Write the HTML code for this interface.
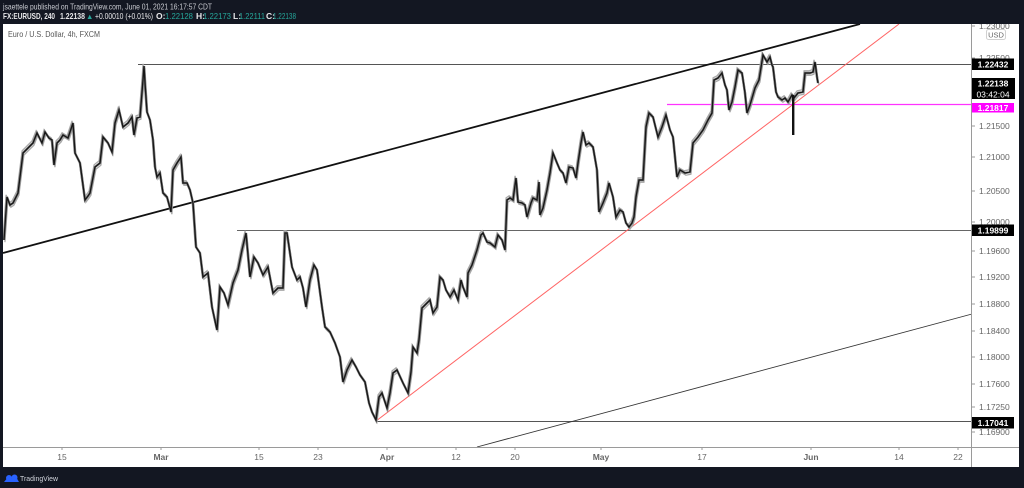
<!DOCTYPE html>
<html><head><meta charset="utf-8"><style>
html,body{margin:0;padding:0;background:#131722;}
svg{display:block;}
text{font-family:"Liberation Sans",sans-serif;}
</style></head><body>
<svg width="1024" height="488" viewBox="0 0 1024 488" xmlns="http://www.w3.org/2000/svg" xmlns:xlink="http://www.w3.org/1999/xlink">
<defs>
<polyline id="pp" fill="none" points="4,240 7,197 10,205 13,203 18,193 23,153 28,148 33,143 37,133 42,143 45,132 49,138 52,140 54,165 57,143 60,140 63,135 68,138 73,123 75,153 80,163 85,200 88,196 90,193 95,167 100,163 103,137 108,143 112,152 115,123 119,110 123,127 128,123 132,117 134,135 137,118 140,117 143,80 144,66 145,83 147,112 150,120 153,140 155,167 157,177 160,173 163,193 167,197 171,212 173,170 177,163 181,157 183,183 187,183 190,190 193,203 196,247 200,253 203,277 208,273 212,307 217,330 220,287 224,293 228,305 233,283 238,270 242,250 246,233 250,277 254,257 258,263 263,275 268,267 273,293 278,288 283,288 285,233 287,233 292,267 297,280 300,277 303,288 306,307 310,280 314,265 317,270 322,307 325,327 330,332 335,343 340,357 343,382 347,370 352,360 356,367 360,375 365,382 369,403 372,412 376,420 379,397 382,393 387,408 390,393 393,373 397,370 403,383 408,393 411,372 413,347 417,353 419,340 422,308 427,303 430,300 433,313 437,307 440,277 443,280 446,290 450,297 454,290 458,300 461,280 463,287 467,297 468,273 472,265 477,250 481,235 483,233 487,242 490,243 495,247 498,235 502,240 505,250 507,200 510,198 513,200 516,178 518,202 522,203 525,205 527,217 531,203 533,198 537,200 539,182 540,215 543,208 547,190 550,173 553,153 557,163 560,170 563,173 566,183 569,167 573,168 576,178 578,163 581,143 583,132 586,145 589,143 593,147 597,170 599,212 603,203 607,193 609,183 613,197 616,217 620,210 623,212 626,223 629,227 632,223 634,217 636,197 639,180 643,180 646,127 649,113 653,117 658,137 662,127 666,115 670,130 673,137 677,177 680,170 685,173 690,172 693,143 698,137 703,130 708,120 712,113 714,80 718,78 722,73 725,85 727,90 729,110 732,102 735,87 738,70 742,73 745,93 747,113 750,105 755,88 759,80 763,55 767,62 770,57 772,65 773,67 776,92 778,97 782,100 785,98 788,102 792,95 794,98 798,93 803,92 805,73 810,73 813,72 815,62 817,77 818,83"/>
</defs>
<rect x="0" y="0" width="1024" height="488" fill="#131722"/>
<rect x="3" y="24" width="1016" height="443" fill="#ffffff"/>

<text x="8" y="37" font-size="8.5" fill="#555" textLength="92" lengthAdjust="spacingAndGlyphs">Euro / U.S. Dollar, 4h, FXCM</text>

<line x1="138" y1="64.5" x2="972" y2="64.5" stroke="#555" stroke-width="1"/>
<line x1="237" y1="230.5" x2="972" y2="230.5" stroke="#666" stroke-width="1"/>
<line x1="376" y1="421.5" x2="972" y2="421.5" stroke="#555" stroke-width="1"/>
<line x1="667" y1="104.5" x2="972" y2="104.5" stroke="#ff33ff" stroke-width="1.2"/>

<line x1="3" y1="253" x2="860" y2="24" stroke="#111" stroke-width="1.8"/>
<line x1="376" y1="421" x2="899" y2="24" stroke="#ff6464" stroke-width="1"/>
<line x1="477" y1="447" x2="972" y2="314" stroke="#333" stroke-width="0.9"/>

<g stroke-linejoin="miter" stroke-linecap="butt">
<use xlink:href="#pp" href="#pp" stroke="#a8a8a8" stroke-width="1.3" transform="translate(0.9,2.2)"/>
<use xlink:href="#pp" href="#pp" stroke="#a8a8a8" stroke-width="1.3" transform="translate(-0.9,-2.2)"/>
<use xlink:href="#pp" href="#pp" stroke="#7a7a7a" stroke-width="2.4"/>
<use xlink:href="#pp" href="#pp" stroke="#161616" stroke-width="1.3"/>
</g>
<rect x="792" y="95" width="2.4" height="40" fill="#111"/>

<line x1="971.5" y1="24" x2="971.5" y2="467" stroke="#9a9a9a" stroke-width="1"/>
<line x1="3" y1="447.5" x2="1019" y2="447.5" stroke="#9a9a9a" stroke-width="1"/>

<g stroke="#9a9a9a" stroke-width="1">
<line x1="972" y1="26" x2="975" y2="26"/><line x1="972" y1="58" x2="975" y2="58"/>
<line x1="972" y1="126" x2="975" y2="126"/><line x1="972" y1="157" x2="975" y2="157"/>
<line x1="972" y1="191" x2="975" y2="191"/><line x1="972" y1="222" x2="975" y2="222"/>
<line x1="972" y1="251" x2="975" y2="251"/><line x1="972" y1="277" x2="975" y2="277"/>
<line x1="972" y1="304" x2="975" y2="304"/><line x1="972" y1="331" x2="975" y2="331"/>
<line x1="972" y1="357" x2="975" y2="357"/><line x1="972" y1="384" x2="975" y2="384"/>
<line x1="972" y1="407" x2="975" y2="407"/><line x1="972" y1="432" x2="975" y2="432"/>
</g>
<g font-size="8.5" fill="#666">
<text x="979" y="29">1.23000</text>
<text x="979" y="61">1.22500</text>
<text x="979" y="129">1.21500</text>
<text x="979" y="160">1.21000</text>
<text x="979" y="194">1.20500</text>
<text x="979" y="225">1.20000</text>
<text x="979" y="254">1.19600</text>
<text x="979" y="280">1.19200</text>
<text x="979" y="307">1.18800</text>
<text x="979" y="334">1.18400</text>
<text x="979" y="360">1.18000</text>
<text x="979" y="387">1.17600</text>
<text x="979" y="410">1.17250</text>
<text x="979" y="435">1.16900</text>
</g>
<rect x="986.5" y="29.5" width="19" height="10" rx="2" fill="#fff" stroke="#d0d0d0" stroke-width="1"/>
<text x="996" y="37.5" font-size="7.5" fill="#666" text-anchor="middle">USD</text>

<rect x="972" y="58.5" width="42" height="11.5" fill="#000"/>
<text x="993" y="67.3" font-size="8.5" font-weight="bold" fill="#fff" text-anchor="middle">1.22432</text>
<rect x="972" y="78" width="43" height="21" fill="#000"/>
<text x="993" y="86.6" font-size="8.5" font-weight="bold" fill="#fff" text-anchor="middle">1.22138</text>
<text x="993" y="97.3" font-size="8.5" fill="#fff" text-anchor="middle">03:42:04</text>
<rect x="972" y="103" width="42" height="9.5" fill="#ff00ff"/>
<text x="993" y="110.8" font-size="8.5" font-weight="bold" fill="#fff" text-anchor="middle">1.21817</text>
<rect x="972" y="224.5" width="42" height="11.5" fill="#000"/>
<text x="993" y="233.5" font-size="8.5" font-weight="bold" fill="#fff" text-anchor="middle">1.19899</text>
<rect x="972" y="417" width="42" height="11.5" fill="#000"/>
<text x="993" y="425.8" font-size="8.5" font-weight="bold" fill="#fff" text-anchor="middle">1.17041</text>

<g stroke="#9a9a9a" stroke-width="1">
<line x1="62" y1="447" x2="62" y2="450"/><line x1="161" y1="447" x2="161" y2="450"/>
<line x1="259" y1="447" x2="259" y2="450"/><line x1="318" y1="447" x2="318" y2="450"/>
<line x1="387" y1="447" x2="387" y2="450"/><line x1="456" y1="447" x2="456" y2="450"/>
<line x1="515" y1="447" x2="515" y2="450"/><line x1="601" y1="447" x2="601" y2="450"/>
<line x1="702" y1="447" x2="702" y2="450"/><line x1="811" y1="447" x2="811" y2="450"/>
<line x1="899" y1="447" x2="899" y2="450"/><line x1="958" y1="447" x2="958" y2="450"/>
</g>
<g font-size="8.5" fill="#666" text-anchor="middle">
<text x="62" y="460">15</text>
<text x="161" y="460" font-weight="bold">Mar</text>
<text x="259" y="460">15</text>
<text x="318" y="460">23</text>
<text x="387" y="460" font-weight="bold">Apr</text>
<text x="456" y="460">12</text>
<text x="515" y="460">20</text>
<text x="601" y="460" font-weight="bold">May</text>
<text x="702" y="460">17</text>
<text x="811" y="460" font-weight="bold">Jun</text>
<text x="899" y="460">14</text>
<text x="958" y="460">22</text>
</g>

<rect x="0" y="0" width="1024" height="24" fill="#131722"/>
<rect x="0" y="467" width="1024" height="21" fill="#131722"/>
<rect x="0" y="0" width="3" height="488" fill="#131722"/>
<rect x="1019" y="0" width="5" height="488" fill="#131722"/>

<text x="3" y="9.5" font-size="8.5" fill="#c8cad0" textLength="209" lengthAdjust="spacingAndGlyphs">jsaettele published on TradingView.com, June 01, 2021 16:17:57 CDT</text>
<g font-size="8.5" font-weight="bold">
<text x="3" y="19" fill="#e8e8ea" textLength="52" lengthAdjust="spacingAndGlyphs">FX:EURUSD, 240</text>
<text x="60" y="19" fill="#e8e8ea" textLength="25" lengthAdjust="spacingAndGlyphs">1.22138</text>
<text x="86" y="19" fill="#26a69a" font-size="7.5">▲</text>
<text x="95" y="19" fill="#e8e8ea" font-weight="normal" textLength="58" lengthAdjust="spacingAndGlyphs">+0.00010 (+0.01%)</text>
<text x="156" y="19" fill="#e8e8ea">O:</text>
<text x="165" y="19" fill="#26a69a" font-weight="normal" textLength="28" lengthAdjust="spacingAndGlyphs">1.22128</text>
<text x="196" y="19" fill="#e8e8ea">H:</text>
<text x="203" y="19" fill="#26a69a" font-weight="normal" textLength="28" lengthAdjust="spacingAndGlyphs">1.22173</text>
<text x="233" y="19" fill="#e8e8ea">L:</text>
<text x="239" y="19" fill="#26a69a" font-weight="normal" textLength="26" lengthAdjust="spacingAndGlyphs">1.22111</text>
<text x="266" y="19" fill="#e8e8ea">C:</text>
<text x="273" y="19" fill="#26a69a" font-weight="normal" textLength="23" lengthAdjust="spacingAndGlyphs">1.22138</text>
</g>

<g fill="#2962ff">
<path d="M4,482 L9,476 L12,479 L15,475 L19,482 Z"/>
<circle cx="9" cy="478" r="3"/>
<circle cx="14.5" cy="477.5" r="3"/>
</g>
<text x="20" y="481" font-size="7.5" fill="#d1d4dc" textLength="38" lengthAdjust="spacingAndGlyphs">TradingView</text>
</svg>
</body></html>
